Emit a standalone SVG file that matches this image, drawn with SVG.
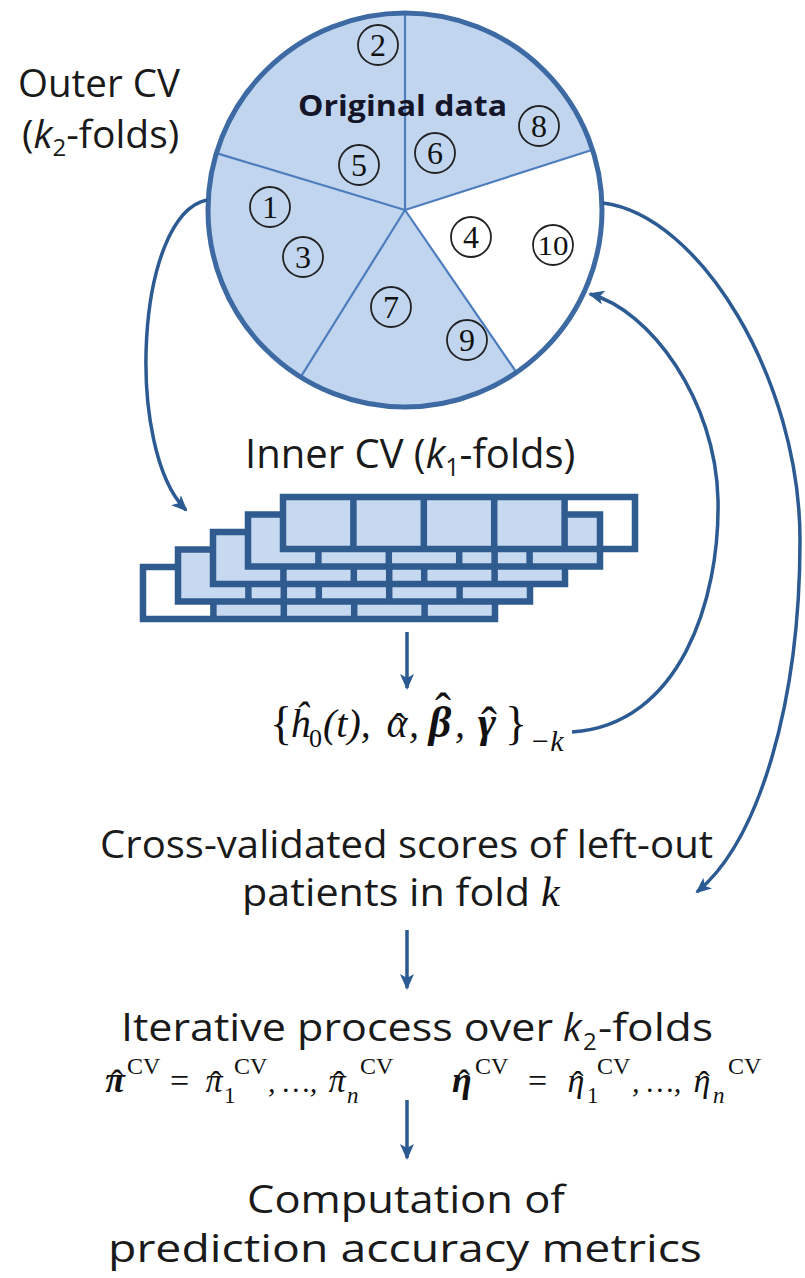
<svg xmlns="http://www.w3.org/2000/svg" width="805" height="1278" viewBox="0 0 805 1278">
<style>
.lbl{font-family:"Open Sans","Liberation Sans",sans-serif;fill:#1a1a1a}
.num{font-family:"Liberation Serif",serif;fill:#111;text-anchor:middle}
.nc{fill:none;stroke:#222;stroke-width:1.8}
.m{font-family:"Liberation Serif","DejaVu Serif",serif;font-style:italic;fill:#111}
.up{font-family:"Liberation Serif","DejaVu Serif",serif;fill:#111}
.c{text-anchor:middle}
.h{font-style:normal;font-weight:normal}
.cell{fill:#c6d9f1}
.frame{fill:none;stroke:#2f5b8f;stroke-width:6.5}
.div{stroke:#2f5b8f;stroke-width:6.5}
.conn{fill:none;stroke:#2c5a92;stroke-width:3.5}
.rad{stroke:#4d7dbd;stroke-width:2.2}
</style>
<defs>
<marker id="ah" markerUnits="userSpaceOnUse" markerWidth="20" markerHeight="16" refX="14" refY="7" orient="auto">
<path d="M0,0 L16,7 L0,14 L4,7 z" fill="#2c5a92"/>
</marker>
</defs>

<g id="original-data">
<circle cx="405" cy="210" r="197" fill="#c1d5ef"/>
<path d="M405,210 L592.6,149.8 A197,197 0 0 1 516.5,372.4 Z" fill="#ffffff"/>
<line class="rad" x1="405" y1="210" x2="405" y2="13"/>
<line class="rad" x1="405" y1="210" x2="592.6" y2="149.8"/>
<line class="rad" x1="405" y1="210" x2="516.5" y2="372.4"/>
<line class="rad" x1="405" y1="210" x2="300.6" y2="377.1"/>
<line class="rad" x1="405" y1="210" x2="216.4" y2="153.1"/>
<circle cx="405" cy="210" r="197" fill="none" stroke="#3d6aa3" stroke-width="5"/>
<text x="298" y="116" font-family="'Open Sans','Liberation Sans',sans-serif" font-weight="bold" font-size="28" fill="#15152a" textLength="209" lengthAdjust="spacingAndGlyphs">Original data</text>
<circle class="nc" cx="378" cy="45" r="20"/><text class="num" x="378" y="56" font-size="32">2</text>
<circle class="nc" cx="539" cy="126" r="20"/><text class="num" x="539" y="137" font-size="32">8</text>
<circle class="nc" cx="359" cy="165" r="20"/><text class="num" x="359" y="176" font-size="32">5</text>
<circle class="nc" cx="435" cy="153" r="20"/><text class="num" x="435" y="164" font-size="32">6</text>
<circle class="nc" cx="270" cy="207" r="20"/><text class="num" x="270" y="218" font-size="32">1</text>
<circle class="nc" cx="303" cy="257" r="20"/><text class="num" x="303" y="268" font-size="32">3</text>
<circle class="nc" cx="471" cy="237" r="20"/><text class="num" x="471" y="248" font-size="32">4</text>
<circle class="nc" cx="553" cy="245" r="20"/><text class="num" x="553" y="255" font-size="28" textLength="31" lengthAdjust="spacingAndGlyphs">10</text>
<circle class="nc" cx="391" cy="307" r="20"/><text class="num" x="391" y="318" font-size="32">7</text>
<circle class="nc" cx="467" cy="340" r="20"/><text class="num" x="467" y="351" font-size="32">9</text>
</g>

<g id="outer-cv-label">
<text class="lbl" x="18" y="97" font-size="38" textLength="162" lengthAdjust="spacingAndGlyphs">Outer CV</text>
<text class="lbl" x="22" y="148" font-size="39">(<tspan font-style="italic">k</tspan><tspan font-size="24" dy="8">2</tspan><tspan dy="-8">-folds)</tspan></text>
</g>

<g id="inner-cv">
<text class="lbl" x="245" y="468" font-size="40">Inner CV (<tspan font-style="italic">k</tspan><tspan font-size="25" dy="8">1</tspan><tspan dy="-8">-folds)</tspan></text>
<g id="fold-stack">
<rect class="cell" x="213.4" y="567" width="281.6" height="52"/>
<rect class="frame" x="143" y="567" width="352" height="52"/>
<line class="div" x1="213.4" y1="567" x2="213.4" y2="619"/><line class="div" x1="283.8" y1="567" x2="283.8" y2="619"/><line class="div" x1="354.2" y1="567" x2="354.2" y2="619"/><line class="div" x1="424.6" y1="567" x2="424.6" y2="619"/>
<rect class="cell" x="178" y="549.5" width="70.4" height="52"/>
<rect class="cell" x="318.8" y="549.5" width="211.2" height="52"/>
<rect class="frame" x="178" y="549.5" width="352" height="52"/>
<line class="div" x1="248.4" y1="549.5" x2="248.4" y2="601.5"/><line class="div" x1="318.8" y1="549.5" x2="318.8" y2="601.5"/><line class="div" x1="389.2" y1="549.5" x2="389.2" y2="601.5"/><line class="div" x1="459.6" y1="549.5" x2="459.6" y2="601.5"/>
<rect class="cell" x="213" y="532" width="140.8" height="52"/>
<rect class="cell" x="424.2" y="532" width="140.8" height="52"/>
<rect class="frame" x="213" y="532" width="352" height="52"/>
<line class="div" x1="283.4" y1="532" x2="283.4" y2="584"/><line class="div" x1="353.8" y1="532" x2="353.8" y2="584"/><line class="div" x1="424.2" y1="532" x2="424.2" y2="584"/><line class="div" x1="494.6" y1="532" x2="494.6" y2="584"/>
<rect class="cell" x="248" y="514.5" width="211.2" height="52"/>
<rect class="cell" x="529.6" y="514.5" width="70.4" height="52"/>
<rect class="frame" x="248" y="514.5" width="352" height="52"/>
<line class="div" x1="318.4" y1="514.5" x2="318.4" y2="566.5"/><line class="div" x1="388.8" y1="514.5" x2="388.8" y2="566.5"/><line class="div" x1="459.2" y1="514.5" x2="459.2" y2="566.5"/><line class="div" x1="529.6" y1="514.5" x2="529.6" y2="566.5"/>
<rect class="cell" x="283" y="497" width="281.6" height="52"/>
<rect class="frame" x="283" y="497" width="352" height="52"/>
<line class="div" x1="353.4" y1="497" x2="353.4" y2="549"/><line class="div" x1="423.8" y1="497" x2="423.8" y2="549"/><line class="div" x1="494.2" y1="497" x2="494.2" y2="549"/><line class="div" x1="564.6" y1="497" x2="564.6" y2="549"/>
</g>
</g>

<g id="parameters">
<text class="up" x="270" y="739" font-size="46">{</text>
<text class="m" x="290" y="737" font-size="40">ĥ</text>
<text class="up" x="309" y="747" font-size="26">0</text>
<text class="m" x="323" y="737" font-size="40">(t),</text>
<text class="m c" x="397" y="737" font-size="40">α<tspan class="h" x="399" dy="4">ˆ</tspan></text>
<text class="m" x="409" y="737" font-size="40">,</text>
<text class="m c" x="440" y="737" font-size="44" font-weight="bold">β<tspan class="h" x="443" dy="-10" font-size="48">ˆ</tspan></text>
<text class="m" x="455" y="737" font-size="40">,</text>
<text class="m c" x="487" y="737" font-size="44" font-weight="bold">γ<tspan class="h" x="489" dy="4" font-size="48">ˆ</tspan></text>
<text class="up" x="505" y="739" font-size="46">}</text>
<text class="m" x="530" y="751" font-size="30">−k</text>
</g>

<g id="cv-scores">
<text class="lbl" x="100" y="858" font-size="38" textLength="613" lengthAdjust="spacingAndGlyphs">Cross-validated scores of left-out</text>
<text class="lbl" x="242" y="906" font-size="38" textLength="288" lengthAdjust="spacingAndGlyphs">patients in fold</text>
<text class="m" x="541" y="906" font-size="42">k</text>
</g>

<g id="iterative">
<text class="lbl" x="121" y="1041" font-size="38" textLength="432" lengthAdjust="spacingAndGlyphs">Iterative process over</text>
<text class="lbl" x="563" y="1041" font-size="38" font-style="italic">k</text>
<text class="lbl" x="583" y="1050" font-size="24">2</text>
<text class="lbl" x="598" y="1041" font-size="38" textLength="115" lengthAdjust="spacingAndGlyphs">-folds</text>

<text class="m c" x="115" y="1092" font-size="36" font-weight="bold">π<tspan class="h" x="117" dy="3">ˆ</tspan></text>
<text class="up" x="127" y="1074" font-size="24">CV</text>
<text class="up" x="170" y="1092" font-size="34">=</text>
<text class="m c" x="214" y="1092" font-size="34">π<tspan class="h" x="216" dy="3">ˆ</tspan></text>
<text class="up" x="224" y="1103" font-size="23">1</text>
<text class="up" x="234" y="1074" font-size="24">CV</text>
<text class="m" x="268" y="1092" font-size="30">, …,</text>
<text class="m c" x="337" y="1092" font-size="34">π<tspan class="h" x="339" dy="3">ˆ</tspan></text>
<text class="m" x="347" y="1103" font-size="23">n</text>
<text class="up" x="360" y="1074" font-size="24">CV</text>

<text class="m c" x="462" y="1092" font-size="36" font-weight="bold">η<tspan class="h" x="464" dy="3">ˆ</tspan></text>
<text class="up" x="475" y="1074" font-size="24">CV</text>
<text class="up" x="528" y="1092" font-size="34">=</text>
<text class="m c" x="576" y="1092" font-size="34">η<tspan class="h" x="578" dy="3">ˆ</tspan></text>
<text class="up" x="587" y="1103" font-size="23">1</text>
<text class="up" x="597" y="1074" font-size="24">CV</text>
<text class="m" x="632" y="1092" font-size="30">, …,</text>
<text class="m c" x="702" y="1092" font-size="34">η<tspan class="h" x="704" dy="3">ˆ</tspan></text>
<text class="m" x="713" y="1103" font-size="23">n</text>
<text class="up" x="728" y="1074" font-size="24">CV</text>
</g>

<g id="computation">
<text class="lbl" x="247" y="1213" font-size="38" textLength="318" lengthAdjust="spacingAndGlyphs">Computation of</text>
<text class="lbl" x="108" y="1262" font-size="38" textLength="594" lengthAdjust="spacingAndGlyphs">prediction accuracy metrics</text>
</g>

<g id="connectors">
<path class="conn" d="M207,200 C135,215 125,450 186,510" marker-end="url(#ah)"/>
<path class="conn" d="M572,732 C680,725 720,600 718,500 C716,400 650,310 590,294" marker-end="url(#ah)"/>
<path class="conn" d="M603,203 C700,215 800,380 800,540 C800,700 760,840 697,892" marker-end="url(#ah)"/>
<line class="conn" x1="407" y1="632" x2="407" y2="688" marker-end="url(#ah)"/>
<line class="conn" x1="407" y1="930" x2="407" y2="988" marker-end="url(#ah)"/>
<line class="conn" x1="407" y1="1100" x2="407" y2="1158" marker-end="url(#ah)"/>
</g>
</svg>
